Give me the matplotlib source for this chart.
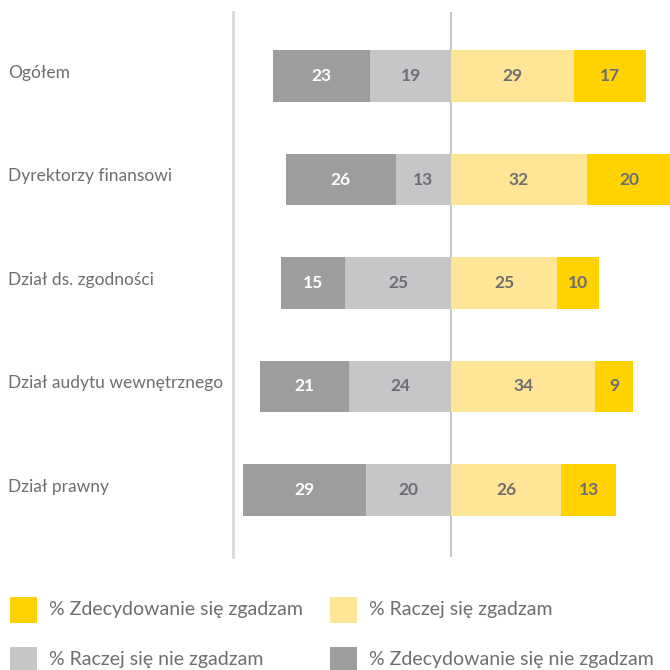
import matplotlib
matplotlib.use('Agg')
import matplotlib.pyplot as plt
import matplotlib.transforms as mtransforms
from matplotlib.patches import Rectangle
import numpy as np

plt.rcParams['font.family'] = ['Lato', 'DejaVu Sans']

categories = ['Ogółem', 'Dyrektorzy finansowi', 'Dział ds. zgodności',
              'Dział audytu wewnętrznego', 'Dział prawny']
strong_disagree = [23, 26, 15, 21, 29]
rather_disagree = [19, 13, 25, 24, 20]
rather_agree = [29, 32, 25, 34, 26]
strong_agree = [17, 20, 10, 9, 13]

legend_labels = ['% Zdecydowanie się zgadzam', '% Raczej się zgadzam',
                 '% Raczej się nie zgadzam', '% Zdecydowanie się nie zgadzam']

c_strong_agr = '#FFD200'
c_rather_agr = '#FFE596'
c_rather_dis = '#C6C6C8'
c_strong_dis = '#9D9D9F'
txt_gray = '#6D6E71'

W = H = 670
fig = plt.figure(figsize=(6.7, 6.7), dpi=100)
ax = fig.add_axes([233 / W, 113 / H, 437 / W, 545 / H])

y = np.arange(len(categories))
sd = np.array(strong_disagree)
rd = np.array(rather_disagree)
ra = np.array(rather_agree)
sa = np.array(strong_agree)
h = 0.5

segs = [
    (-rd, rd, c_rather_dis, txt_gray),
    (-rd - sd, sd, c_strong_dis, 'white'),
    (np.zeros_like(ra), ra, c_rather_agr, txt_gray),
    (ra, sa, c_strong_agr, txt_gray),
]
for left, width, col, tcol in segs:
    bars = ax.barh(y, width, left=left, height=h, color=col, linewidth=0)
    for b, v in zip(bars, width):
        ax.text(b.get_x() + b.get_width() / 2, b.get_y() + b.get_height() / 2,
                str(v), ha='center', va='center', color=tcol,
                fontsize=12.5, fontweight='bold')

ax.set_xlim(-51.4, 51.65)
ax.set_ylim(4.65, -0.62)
ax.axvline(0, color='#C8C8C8', lw=1.5, zorder=0)
for s in ['top', 'right', 'bottom']:
    ax.spines[s].set_visible(False)
ax.spines['left'].set_color('#D9D9D9')
ax.spines['left'].set_linewidth(2)
ax.set_xticks([])
ax.set_yticks([])

# category labels, flush left in figure space
tr = mtransforms.blended_transform_factory(fig.transFigure, ax.transData)
for yi, cat in zip(y, categories):
    ax.text(8 / W, yi - 0.03, cat, transform=tr, ha='left', va='center',
            color=txt_gray, fontsize=12.5, clip_on=False)

# legend, two rows of two
leg_cols = [c_strong_agr, c_rather_agr, c_rather_dis, c_strong_dis]
leg_pos = [(10, 610), (330, 610), (10, 660), (330, 660)]
for (px, py), col, lab in zip(leg_pos, leg_cols, legend_labels):
    fig.add_artist(Rectangle((px / W, 1 - (py + 13) / H), 27 / W, 26 / H,
                             transform=fig.transFigure, color=col, lw=0))
    fig.text((px + 39) / W, 1 - py / H, lab, ha='left', va='center',
             color=txt_gray, fontsize=14)

fig.savefig('out.png', dpi=100)
